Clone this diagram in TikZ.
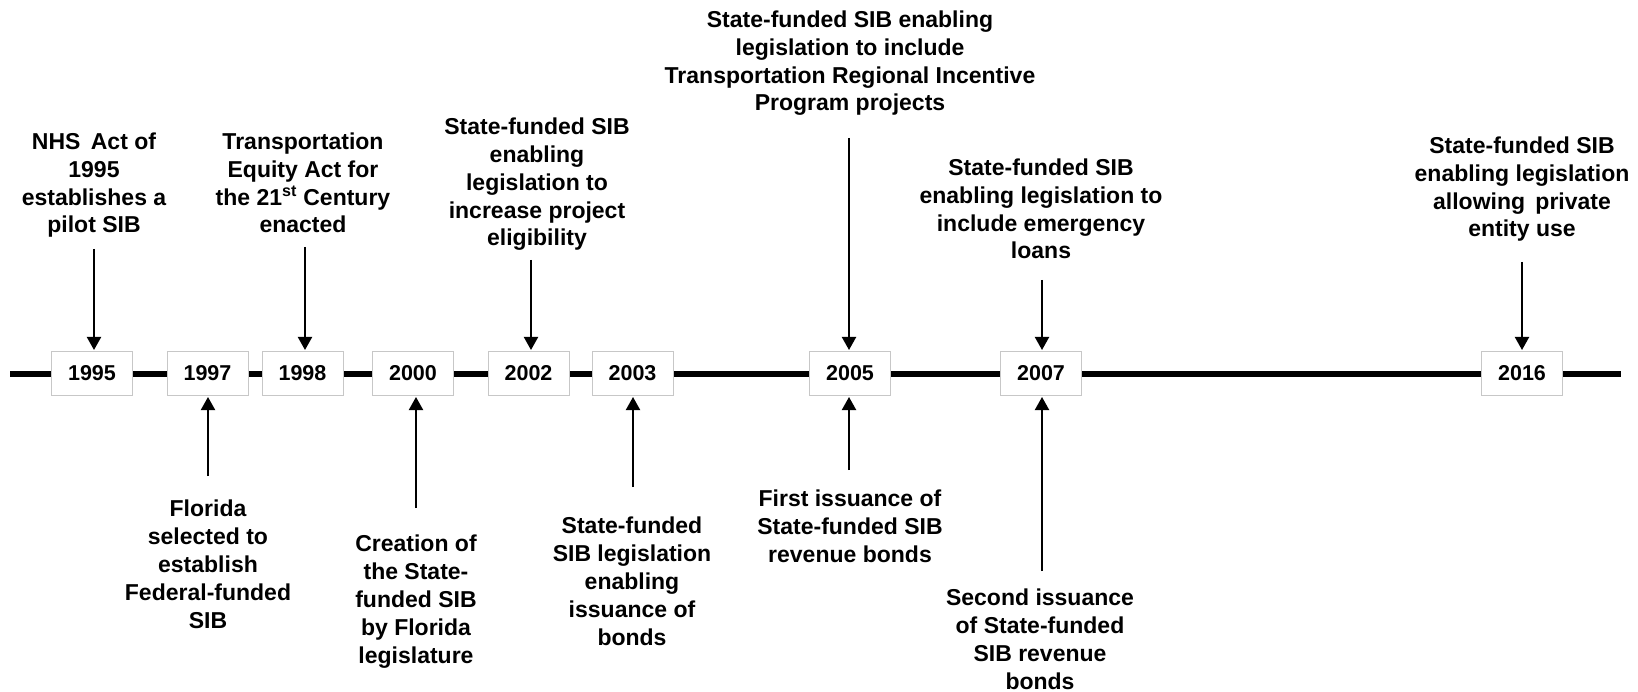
\documentclass[tikz,border=0pt]{standalone}
\usepackage{fontspec}
\setmainfont{Liberation Sans}
\usetikzlibrary{arrows.meta}
\begin{document}
\begin{tikzpicture}[x=1pt,y=-1pt,
  yearbox/.style={draw=black!22, fill=white, line width=1pt, minimum width=81pt, minimum height=43pt, inner sep=0pt, font=\fontsize{21.5}{24}\selectfont\bfseries},
  lbl/.style={align=center, inner sep=0pt, anchor=base, font=\fontsize{23}{27.8}\selectfont\bfseries},
  arr/.style={line width=2pt, -{Triangle[length=13pt,width=14pt]}, shorten >=1.5pt},
  tline/.style={line width=6pt}]
\useasboundingbox (0,0) rectangle (1638,692);
% timeline
\coordinate (lineL) at (10,374);
\coordinate (lineR) at (1621,374);
\draw[tline] (lineL) -- (lineR);
% year boxes
\node[yearbox] (y1995) at (92,373.5) {1995};
\node[yearbox] (y1997) at (207.5,373.5) {1997};
\node[yearbox] (y1998) at (302.5,373.5) {1998};
\node[yearbox] (y2000) at (413,373.5) {2000};
\node[yearbox] (y2002) at (528.5,373.5) {2002};
\node[yearbox] (y2003) at (632.5,373.5) {2003};
\node[yearbox] (y2005) at (850,373.5) {2005};
\node[yearbox] (y2007) at (1041,373.5) {2007};
\node[yearbox] (y2016) at (1522,373.5) {2016};
% top labels (placed by the baseline of their last line)
\node[lbl] (l1995) at (94,233) {NHS\hspace{0.45em}Act of\\1995\\establishes a\\pilot SIB};
\node[lbl] (l1998) at (303,233) {Transportation\\Equity Act for\\the 21\textsuperscript{st} Century\\enacted};
\node[lbl] (l2002) at (537,246) {State-funded SIB\\enabling\\legislation to\\increase project\\eligibility};
\node[lbl] (l2005t) at (850,111) {State-funded SIB enabling\\legislation to include\\Transportation Regional Incentive\\Program projects};
\node[lbl] (l2007t) at (1041,259) {State-funded SIB\\enabling legislation to\\include emergency\\loans};
\node[lbl] (l2016) at (1522,237) {State-funded SIB\\enabling legislation\\allowing\hspace{0.45em}private\\entity use};
% bottom labels
\node[lbl] (l1997) at (208,628) {Florida\\selected to\\establish\\Federal-funded\\SIB};
\node[lbl] (l2000) at (416,663) {Creation of\\the State-\\funded SIB\\by Florida\\legislature};
\node[lbl] (l2003) at (632,645) {State-funded\\SIB legislation\\enabling\\issuance of\\bonds};
\node[lbl] (l2005b) at (850,562) {First issuance of\\State-funded SIB\\revenue bonds};
\node[lbl] (l2007b) at (1040,689) {Second issuance\\of State-funded\\SIB revenue\\bonds};
% arrow start points
\coordinate (s1995) at (94,249);
\coordinate (s1998) at (305,247);
\coordinate (s2002) at (531,260);
\coordinate (s2005t) at (849,138);
\coordinate (s2007t) at (1042,280);
\coordinate (s2016) at (1522,262);
\coordinate (s1997) at (208,476);
\coordinate (s2000) at (416,508);
\coordinate (s2003) at (633,487);
\coordinate (s2005b) at (849,470);
\coordinate (s2007b) at (1042,571);
% arrows down
\draw[arr] (s1995) -- (s1995 |- y1995.north);
\draw[arr] (s1998) -- (s1998 |- y1998.north);
\draw[arr] (s2002) -- (s2002 |- y2002.north);
\draw[arr] (s2005t) -- (s2005t |- y2005.north);
\draw[arr] (s2007t) -- (s2007t |- y2007.north);
\draw[arr] (s2016) -- (s2016 |- y2016.north);
% arrows up
\draw[arr] (s1997) -- (s1997 |- y1997.south);
\draw[arr] (s2000) -- (s2000 |- y2000.south);
\draw[arr] (s2003) -- (s2003 |- y2003.south);
\draw[arr] (s2005b) -- (s2005b |- y2005.south);
\draw[arr] (s2007b) -- (s2007b |- y2007.south);
\end{tikzpicture}
\end{document}
